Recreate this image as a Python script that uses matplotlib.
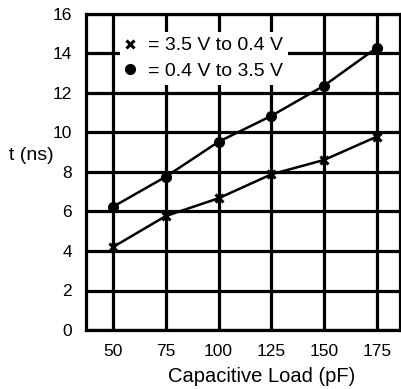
import matplotlib
matplotlib.use("Agg")
import matplotlib.pyplot as plt
from matplotlib.lines import Line2D

plt.rcParams['font.family'] = ['Liberation Sans', 'DejaVu Sans']

load_pf = [50, 75, 100, 125, 150, 175]
t_high_to_low = [4.2, 5.77, 6.67, 7.88, 8.61, 9.79]     # 3.5 V to 0.4 V (x)
t_low_to_high = [6.24, 7.76, 9.53, 10.84, 12.37, 14.29]  # 0.4 V to 3.5 V (dot)
x_ticks = [50, 75, 100, 125, 150, 175]
y_ticks = [0, 2, 4, 6, 8, 10, 12, 14, 16]
label_hl = "= 3.5 V to 0.4 V"
label_lh = "= 0.4 V to 3.5 V"

fig = plt.figure(figsize=(4.02, 3.89), dpi=100)
ax = fig.add_axes([86/402, 1-330/389, 314/402, 316/389])

ax.set_xlim(37.2, 186.0)
ax.set_ylim(0, 16)
ax.set_xticks(x_ticks)
ax.set_yticks(y_ticks)
ax.grid(True, color='black', linewidth=2.3)
ax.set_axisbelow(True)
for s in ax.spines.values():
    s.set_linewidth(2.3)
ax.tick_params(length=0, labelsize=12.5, pad=10)

ax.plot(load_pf, t_low_to_high, color='black', lw=1.8, marker='o', ms=7, zorder=3)
ax.plot(load_pf, t_high_to_low, color='black', lw=1.8, marker='x', ms=6, mew=2.2, zorder=3)

handles = [Line2D([], [], color='black', marker='x', ls='none', ms=6, mew=2.2),
           Line2D([], [], color='black', marker='o', ls='none', ms=7)]
leg = ax.legend(handles, [label_hl, label_lh], loc='upper left',
                bbox_to_anchor=((120-86)/314, (330-32)/316),
                fontsize=14, frameon=True, fancybox=False, framealpha=1,
                facecolor='white', edgecolor='none', borderpad=0.25,
                handlelength=0.5, handletextpad=0.7, labelspacing=0.4,
                borderaxespad=0)
leg.set_zorder(2.5)

fig.text(262/402, 1-377/389, "Capacitive Load (pF)", fontsize=14.5, ha='center', va='center')
fig.text(31/402, 1-156/389, "t (ns)", fontsize=14, ha='center', va='center')

fig.savefig("out.png", dpi=100)
